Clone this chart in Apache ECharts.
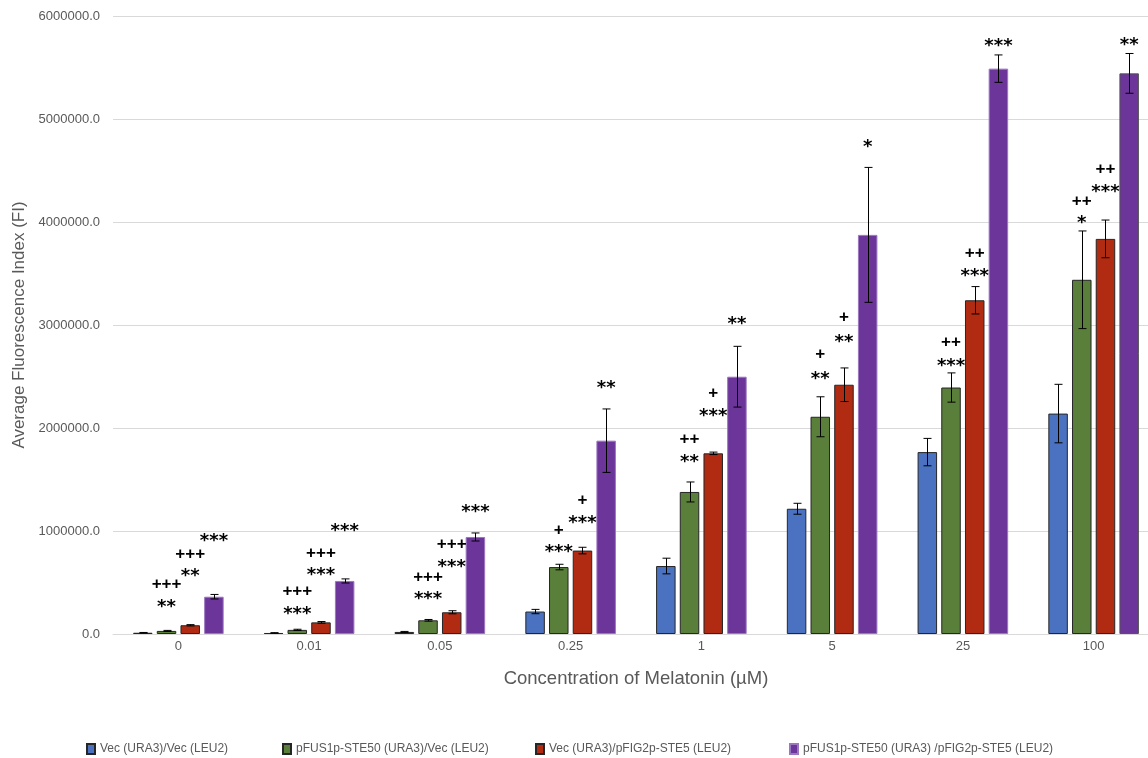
<!DOCTYPE html>
<html>
<head>
<meta charset="utf-8">
<script src="https://cdn.jsdelivr.net/npm/echarts@6/dist/echarts.min.js"></script>
<style>
  html, body { margin: 0; padding: 0; background: #ffffff; }
  #chart { width: 1148px; height: 758px; }
</style>
</head>
<body>
<div id="chart"></div>
<script>
// Melatonin concentrations (µM)
const categories = ['0', '0.01', '0.05', '0.25', '1', '5', '25', '100'];

// Strain names
const seriesNames = [
  'Vec (URA3)/Vec (LEU2)',
  'pFUS1p-STE50 (URA3)/Vec (LEU2)',
  'Vec (URA3)/pFIG2p-STE5 (LEU2)',
  'pFUS1p-STE50 (URA3) /pFIG2p-STE5 (LEU2)'
];

// Mean fluorescence index per strain
const vecVec       = [12000, 10000, 20000, 218000, 660000, 1216000, 1766000, 2140000];
const fus1Vec      = [30000, 40000, 133000, 650000, 1379000, 2109000, 2393000, 3439000];
const vecFig2      = [85000, 113000, 211000, 810000, 1754000, 2420000, 3240000, 3836000];
const fus1Fig2     = [362000, 515000, 942000, 1877000, 2498000, 3875000, 5489000, 5443000];

// Error (± one standard deviation)
const vecVecErr    = [3000, 3000, 5000, 21000, 76000, 53000, 133000, 284000];
const fus1VecErr   = [5000, 6000, 8000, 27000, 97000, 194000, 142000, 474000];
const vecFig2Err   = [6000, 8000, 15000, 32000, 12000, 163000, 133000, 183000];
const fus1Fig2Err  = [22000, 20000, 39000, 308000, 295000, 655000, 133000, 193000];

// Significance marks: [category index, strain index, level (FI), text]
const sigMarks = [
  [0, 1, 298000, '**'],  [0, 1, 483000, '+++'],
  [0, 2, 595000, '**'],  [0, 2, 774000, '+++'],
  [0, 3, 935000, '***'],
  [1, 1, 230000, '***'], [1, 1, 415000, '+++'],
  [1, 2, 605000, '***'], [1, 2, 783000, '+++'],
  [1, 3, 1032000, '***'],
  [2, 1, 372000, '***'], [2, 1, 550000, '+++'],
  [2, 2, 689000, '***'], [2, 2, 871000, '+++'],
  [2, 3, 1220000, '***'],
  [3, 1, 828000, '***'], [3, 1, 1010000, '+'],
  [3, 2, 1117000, '***'], [3, 2, 1298000, '+'],
  [3, 3, 2427000, '**'],
  [4, 1, 1706000, '**'], [4, 1, 1890000, '++'],
  [4, 2, 2155000, '***'], [4, 2, 2340000, '+'],
  [4, 3, 3049000, '**'],
  [5, 1, 2511000, '**'], [5, 1, 2714000, '+'],
  [5, 2, 2874000, '**'], [5, 2, 3076000, '+'],
  [5, 3, 4760000, '*'],
  [6, 1, 2639000, '***'], [6, 1, 2830000, '++'],
  [6, 2, 3513000, '***'], [6, 2, 3700000, '++'],
  [6, 3, 5747000, '***'],
  [7, 1, 4023000, '*'],  [7, 1, 4203000, '++'],
  [7, 2, 4331000, '***'], [7, 2, 4515000, '++'],
  [7, 3, 5758000, '**']
];

// Y axis range
const yMin = 0, yMax = 6000000, yStep = 1000000;

const means = [vecVec, fus1Vec, vecFig2, fus1Fig2];
const errors = [vecVecErr, fus1VecErr, vecFig2Err, fus1Fig2Err];

const colors = ['#4a72c0', '#5a7f3a', '#b12a12', '#6b3599'];
const borders = ['#262626', '#262626', '#262626', '#9b77c0'];

const BAR_W = 19.5;
const GAP_PX = 4.2;
const GRAY = '#595959';
const FONT = '"Liberation Sans", Arial, sans-serif';

// Horizontal offset of a strain's bar inside its category group
function barOffset(s) {
  return (s - 1.5) * (BAR_W + GAP_PX);
}

const errData = [];
means.forEach((arr, s) => arr.forEach((v, c) => errData.push([c, s, v, errors[s][c]])));

function renderErrorBar(params, api) {
  const c = api.value(0), s = api.value(1), v = api.value(2), e = api.value(3);
  const hi = api.coord([c, v + e]);
  const lo = api.coord([c, v - e]);
  const x = Math.round(hi[0] + barOffset(s)) + 0.5;
  const cap = 4;
  const st = { stroke: '#000', lineWidth: 1 };
  return {
    type: 'group',
    children: [
      { type: 'line', shape: { x1: x, y1: hi[1], x2: x, y2: lo[1] }, style: st },
      { type: 'line', shape: { x1: x - cap, y1: hi[1], x2: x + cap, y2: hi[1] }, style: st },
      { type: 'line', shape: { x1: x - cap, y1: lo[1], x2: x + cap, y2: lo[1] }, style: st }
    ]
  };
}

function renderSigMark(params, api) {
  const m = sigMarks[params.dataIndex];
  const p = api.coord([m[0], m[2]]);
  const isStar = m[3].indexOf('*') >= 0;
  return {
    type: 'text',
    style: {
      x: p[0] + barOffset(m[1]),
      y: p[1] + (isStar ? 4 : 0),
      text: m[3],
      align: 'center',
      verticalAlign: 'middle',
      fill: '#000',
      fontSize: isStar ? 18 : 17,
      fontWeight: 'bold',
      fontFamily: isStar ? '"DejaVu Sans", sans-serif' : '"Liberation Sans", sans-serif'
    }
  };
}

const barSeries = seriesNames.map((name, s) => ({
  name: name,
  type: 'bar',
  barWidth: BAR_W,
  barGap: (GAP_PX / BAR_W * 100).toFixed(1) + '%',
  data: means[s].map((v, c) => (s === 3 && c === categories.length - 1)
    ? { value: v, itemStyle: { borderColor: '#555555' } }
    : v),
  itemStyle: { color: colors[s], borderColor: borders[s], borderWidth: 1 },
  emphasis: { disabled: true },
  z: 2
}));

const legendLefts = [81, 277, 530, 784];

const chart = echarts.init(document.getElementById('chart'), null, { renderer: 'canvas' });
chart.setOption({
  animation: false,
  backgroundColor: '#ffffff',
  // plot area runs slightly past the right edge of the canvas
  grid: { left: 113, top: 16, width: 1046, height: 618, outerBoundsMode: 'none', containLabel: false },
  legend: seriesNames.map((n, i) => ({
    data: [n],
    left: legendLefts[i],
    top: 738,
    icon: 'rect',
    itemWidth: 8,
    itemHeight: 10,
    selectedMode: false,
    textStyle: { color: GRAY, fontSize: 12, fontFamily: FONT }
  })),
  xAxis: {
    type: 'category',
    data: categories,
    axisTick: { show: false },
    axisLine: { lineStyle: { color: '#d9d9d9', width: 1 } },
    axisLabel: { color: GRAY, fontSize: 13, fontFamily: FONT, margin: 6 },
    name: 'Concentration of Melatonin (µM)',
    nameLocation: 'middle',
    nameGap: 35,
    nameTextStyle: { color: GRAY, fontSize: 18.5, fontFamily: FONT }
  },
  yAxis: {
    type: 'value',
    min: yMin,
    max: yMax,
    interval: yStep,
    axisLine: { show: false },
    axisTick: { show: false },
    splitLine: { lineStyle: { color: '#d9d9d9', width: 1 } },
    axisLabel: {
      color: GRAY, fontSize: 13, fontFamily: FONT, margin: 13,
      formatter: v => v.toFixed(1)
    },
    name: 'Average Fluorescence Index (FI)',
    nameLocation: 'middle',
    nameGap: 83,
    nameTextStyle: { color: GRAY, fontSize: 17, fontFamily: FONT }
  },
  series: barSeries.concat([
    {
      type: 'custom',
      name: 'error',
      data: errData,
      encode: { x: 0, y: 2 },
      renderItem: renderErrorBar,
      silent: true,
      z: 5
    },
    {
      type: 'custom',
      name: 'significance',
      data: sigMarks.map(m => [m[0], m[2]]),
      encode: { x: 0, y: 1 },
      renderItem: renderSigMark,
      silent: true,
      clip: false,
      z: 6
    }
  ])
});
</script>
</body>
</html>
